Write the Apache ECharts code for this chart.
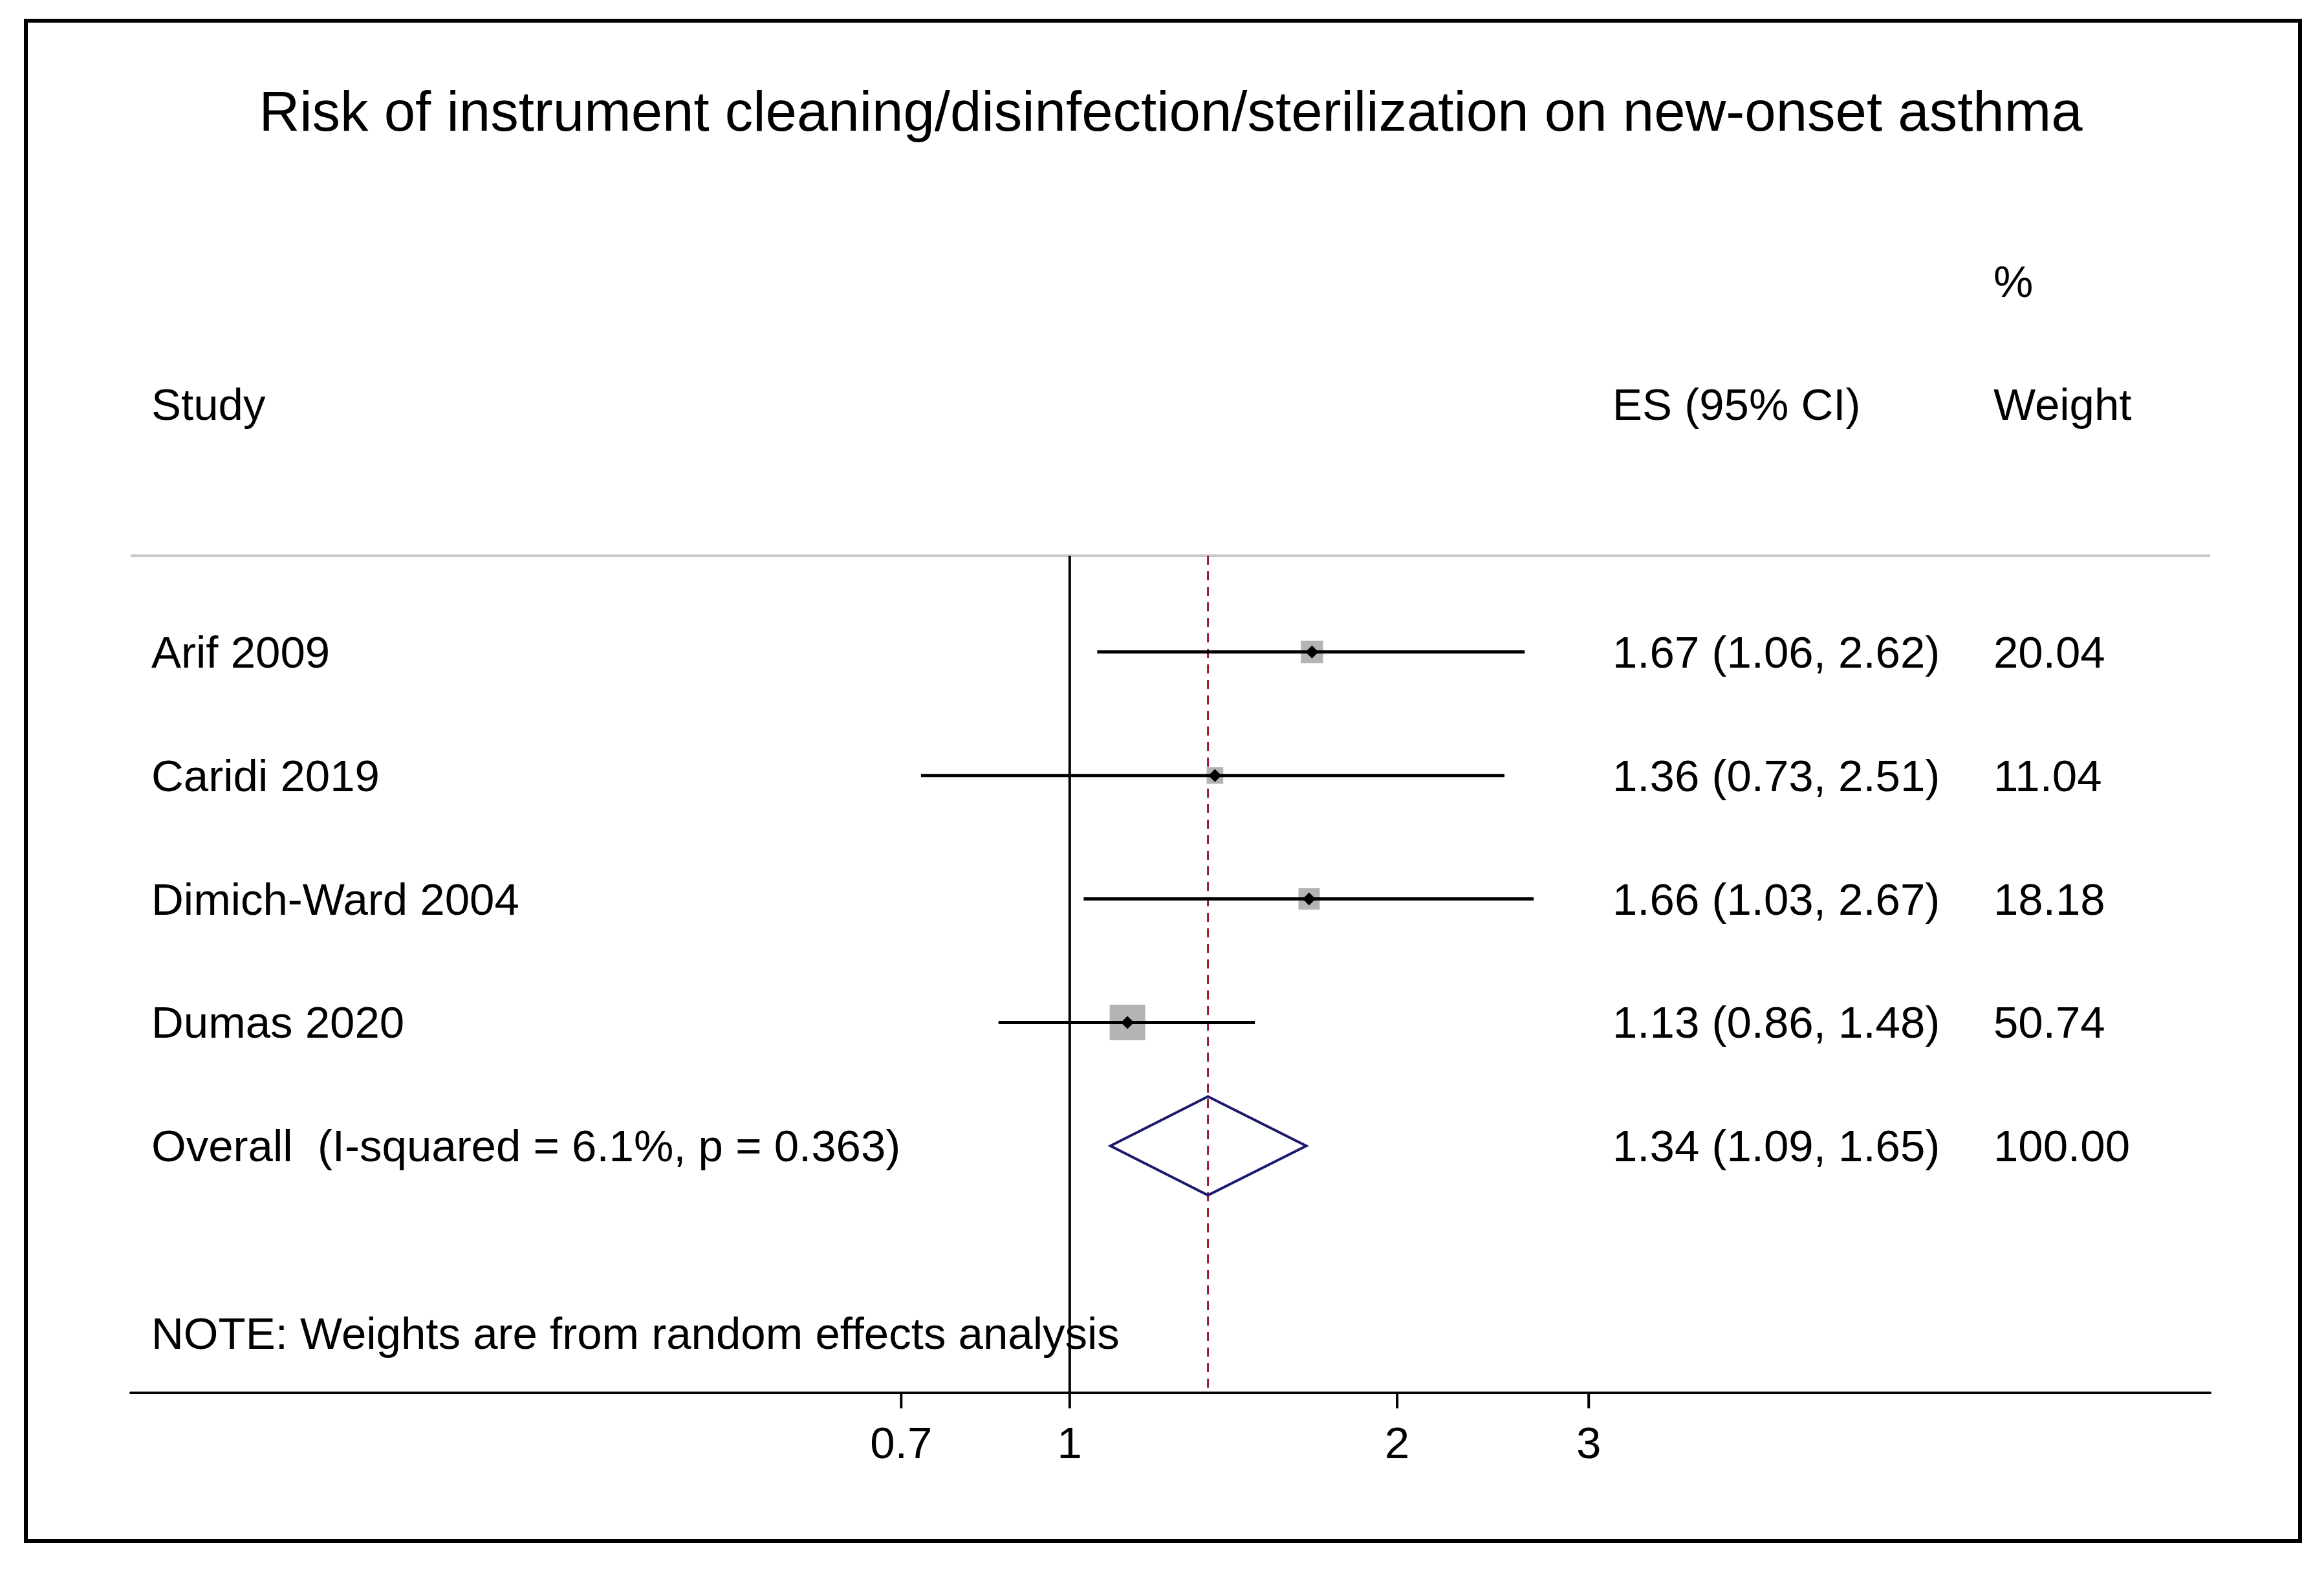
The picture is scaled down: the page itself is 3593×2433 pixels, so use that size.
<!DOCTYPE html>
<html><head><meta charset="utf-8">
<script src="https://cdn.jsdelivr.net/npm/echarts@6/dist/echarts.min.js"></script>
<style>html,body{margin:0;padding:0;background:#fff}#c{width:3593px;height:2433px}</style>
</head><body><div id="c"></div>
<script>
const studies = ['Arif 2009','Caridi 2019','Dimich-Ward 2004','Dumas 2020'];
const es = [1.67,1.36,1.66,1.13];
const lo = [1.06,0.73,1.03,0.86];
const hi = [2.62,2.51,2.67,1.48];
const weights = [20.04,11.04,18.18,50.74];
const overall = {label:'Overall  (I-squared = 6.1%, p = 0.363)', es:1.34, lo:1.09, hi:1.65, w:100.00};
const tickVals = [0.7,1,2,3];
const tickLabels = ['0.7','1','2','3'];

const FONT = 'Liberation Sans, Arial, sans-serif';
const FS = 69;
const DY = 5;
const XMIN = 0.137, XMAX = 11.18, YMIN = -0.78, YMAX = 6.0;
const esTxt = (e,l,h)=>e.toFixed(2)+' ('+l.toFixed(2)+', '+h.toFixed(2)+')';

const rows = studies.map((s,i)=>[i, es[i], lo[i], hi[i], weights[i]]);
const chart = echarts.init(document.getElementById('c'));
const T = (x,y,text,extra)=>({type:'text',x:x,y:y,style:Object.assign({text:text,font:FS+'px '+FONT,fill:'#000',textVerticalAlign:'middle'},extra||{})});
chart.setOption({
  animation:false,
  backgroundColor:'#fff',
  grid:{left:202,right:176,top:859,bottom:280},
  xAxis:{type:'log',logBase:10,min:XMIN,max:XMAX,axisLine:{show:true,onZero:false,lineStyle:{color:'#000',width:4}},
    axisTick:{show:false},axisLabel:{show:false},splitLine:{show:false}},
  yAxis:{type:'value',inverse:true,min:YMIN,max:YMAX,show:false},
  graphic:[
    {type:'rect',shape:{x:40,y:32,width:3516,height:2350},style:{fill:'none',stroke:'#000',lineWidth:6}},
    T(1810,178,'Risk of instrument cleaning/disinfection/sterilization on new-onset asthma',{font:'87px '+FONT,textAlign:'center'}),
    T(3082,440,'%'),
    T(234,630,'Study'),
    T(2493,630,'ES (95% CI)'),
    T(3082,630,'Weight')
  ],
  series:[
    {type:'custom',coordinateSystem:'cartesian2d',data:[[0]],z:1,renderItem:(p,api)=>{
      const a=api.coord([XMIN,YMIN]), b=api.coord([XMAX,YMIN]);
      const t1=api.coord([1,YMIN]), b1=api.coord([1,YMAX]);
      const t2=api.coord([overall.es,YMIN]), b2=api.coord([overall.es,YMAX]);
      const ch=[
        {type:'line',shape:{x1:a[0],y1:a[1],x2:b[0],y2:b[1]},style:{stroke:'#c8c8c8',lineWidth:4}},
        {type:'line',shape:{x1:t1[0],y1:t1[1],x2:b1[0],y2:b1[1]},style:{stroke:'#000',lineWidth:4}},
        {type:'line',shape:{x1:t2[0],y1:t2[1],x2:b2[0],y2:b2[1]},style:{stroke:'#9b1c31',lineWidth:3,lineDash:[14,10]}}
      ];
      tickVals.forEach((v,k)=>{const q=api.coord([v,YMAX]);
        ch.push({type:'line',shape:{x1:q[0],y1:q[1],x2:q[0],y2:q[1]+24},style:{stroke:'#000',lineWidth:4}});
        ch.push(T(q[0],q[1]+82,tickLabels[k],{textAlign:'center'}));
      });
      const n=api.coord([XMIN,5.52]);
      ch.push(T(234,n[1]+DY,'NOTE: Weights are from random effects analysis'));
      const o=api.coord([overall.lo,4]), oc=api.coord([overall.es,4]), oh=api.coord([overall.hi,4]);
      const dh=api.size([0,0.4])[1];
      ch.push({type:'polygon',shape:{points:[[o[0],o[1]],[oc[0],o[1]-dh],[oh[0],o[1]],[oc[0],o[1]+dh]]},style:{fill:'none',stroke:'#1a1a6e',lineWidth:4}});
      ch.push(T(234,o[1]+DY,overall.label));
      ch.push(T(2493,o[1]+DY,esTxt(overall.es,overall.lo,overall.hi)));
      ch.push(T(3082,o[1]+DY,overall.w.toFixed(2)));
      return {type:'group',children:ch};
    }},
    {type:'custom',coordinateSystem:'cartesian2d',data:rows,z:2,renderItem:(p,api)=>{
      const i=api.value(0), e=api.value(1), l=api.value(2), h=api.value(3), w=api.value(4);
      const c=api.coord([e,i]), cl=api.coord([l,i]), chh=api.coord([h,i]);
      const s=55*Math.sqrt(w/50.74);
      const d=10;
      return {type:'group',children:[
        {type:'rect',shape:{x:c[0]-s/2,y:c[1]-s/2,width:s,height:s},style:{fill:'#b4b4b4'}},
        {type:'line',shape:{x1:cl[0],y1:c[1],x2:chh[0],y2:c[1]},style:{stroke:'#000',lineWidth:5}},
        {type:'polygon',shape:{points:[[c[0]-d,c[1]],[c[0],c[1]-d],[c[0]+d,c[1]],[c[0],c[1]+d]]},style:{fill:'#000'}},
        T(234,c[1]+DY,studies[i]),
        T(2493,c[1]+DY,esTxt(e,l,h)),
        T(3082,c[1]+DY,w.toFixed(2))
      ]};
    }}
  ]
});
</script></body></html>
